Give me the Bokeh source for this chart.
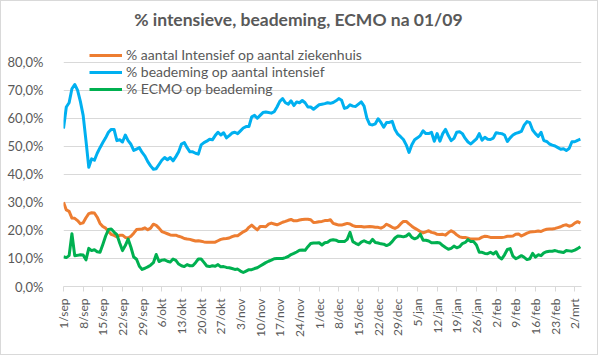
import math
from bokeh.plotting import figure
from bokeh.models import (ColumnDataSource, FixedTicker, CustomJSTickFormatter,
                          Legend, LegendItem, Label, Range1d)
from bokeh.embed import file_html
from bokeh.resources import INLINE

# ---- data (percentages, daily from 1 sep 2020) ----
tick_labels = ["1/sep", "8/sep", "15/sep", "22/sep", "29/sep", "6/okt", "13/okt",
               "20/okt", "27/okt", "3/nov", "10/nov", "17/nov", "24/nov", "1/dec",
               "8/dec", "15/dec", "22/dec", "29/dec", "5/jan", "12/jan", "19/jan",
               "26/jan", "2/feb", "9/feb", "16/feb", "23/feb", "2/mrt"]

pct_ic = [30, 27.3, 26.8, 24.4, 24.3, 23.5, 22.4, 22.7, 24.5, 26, 26.3, 26.2, 24.7, 22.5, 21.4,
          20.8, 19.6, 18.6, 18.2, 17.7, 18.3, 18.3, 17.5, 17.3, 17.9, 19, 20.3, 20.4, 20.5, 20.9,
          20.2, 20.8, 22.2, 21.8, 20.8, 19.6, 19.2, 18.8, 18.4, 18.3, 18.3, 17.9, 17.6, 17.1, 16.9,
          16.8, 16.5, 16.2, 16.3, 16.1, 15.9, 15.8, 15.8, 15.8, 15.8, 16.3, 16.8, 17, 17.1, 17.3,
          17.8, 18.1, 18.1, 18.8, 19.5, 20, 21.1, 21.9, 21, 20.2, 21.4, 21.4, 21.3, 22.2, 22.6,
          22.3, 22, 22.4, 22.9, 23.2, 23.6, 23.9, 23.4, 23.4, 23.7, 23.9, 24, 24, 23.8, 22.8,
          22.9, 23.1, 23.2, 23.5, 23.5, 23.8, 22.5, 22.2, 21.9, 21.9, 22.2, 22.5, 22.3, 21.7, 21.4,
          21.4, 21.4, 21.2, 21.3, 21.4, 21.3, 21.1, 21.1, 20.8, 21.3, 22.2, 21.7, 21.1, 20.7, 21.2,
          22.3, 23.2, 23.2, 22.3, 21.5, 20.8, 20.2, 19.6, 19.1, 19.5, 19.9, 19.3, 19.1, 18.6, 18.5,
          18.6, 18.3, 19.2, 19.9, 19.3, 18.4, 17.7, 17.5, 17.5, 17.2, 16.9, 16.9, 16.9, 17, 17.6,
          17.9, 17.8, 17.5, 17.5, 17.5, 17.5, 17.5, 17.6, 17.9, 17.9, 18, 18.6, 18.7, 18, 18.5,
          19, 19.4, 19.5, 19.6, 19.8, 19.6, 20.1, 20.4, 20.5, 20.5, 20.7, 21, 21.3, 21.8, 22,
          21.5, 21.8, 22.6, 23.1, 22.6]

pct_vent = [56.3, 64, 65.5, 70.5, 72, 70, 66, 61, 52, 42.5, 45.5, 45, 47.5, 49.5, 51.3,
            53, 55, 56, 56, 52, 52.3, 51.5, 54, 52, 50.7, 48.5, 49, 49.5, 47.8, 46.5,
            44.5, 43, 41.8, 42, 43.5, 45, 46, 45.2, 46, 44.8, 46.3, 48, 50.8, 51.3, 49.5,
            48, 48, 47.5, 47.2, 50.5, 51.3, 51.8, 52.5, 52.3, 53.8, 55, 54, 54.8, 53, 53.8,
            54.7, 55, 54.5, 55.5, 56.5, 57, 57, 60.5, 61, 60, 61, 62, 62.2, 62, 61.8,
            62.3, 64, 66, 67, 65.5, 65, 66.2, 64.5, 65.8, 65.5, 66.3, 65.5, 64, 64, 63.2,
            64, 64.8, 65, 65.2, 65.5, 65.3, 65.6, 66.2, 67, 66.4, 63.5, 63.8, 64.8, 64.3, 64.2,
            65, 65.8, 64.3, 60, 57.8, 57.6, 58, 59.8, 58.5, 56.8, 58.5, 58.5, 58.9, 56, 54.3,
            53.4, 52.4, 50.5, 47.8, 50.5, 52.3, 53, 53.8, 55.5, 54.5, 54.5, 55, 51.8, 54.5, 51.8,
            54.5, 56, 53.8, 52, 52.8, 55, 55.2, 54.5, 52.8, 51.5, 50.8, 51.7, 52.6, 54.5, 52.2,
            53.2, 52.5, 52.4, 52.9, 54.8, 54.6, 54.5, 54, 51.7, 53, 54, 54.6, 54.9, 55.3, 57.5,
            58.8, 58.4, 55.8, 54.5, 53.5, 55, 52, 51.7, 50.8, 50.4, 50.1, 49.5, 48.9, 49.1, 48.5,
            49.2, 51.6, 51.6, 52.1, 52.5]

pct_ecmo = [10.6, 10.3, 11, 18.8, 11, 11.1, 11.3, 11.2, 9.5, 13.6, 12.8, 13.1, 12.4, 12.2, 15,
            18, 20.3, 20.5, 19.4, 18.5, 15.5, 12.8, 14.6, 16.9, 14, 10.5, 9.7, 7.2, 6.1, 6.5,
            7, 7.6, 8.5, 11.4, 8.9, 9.4, 9.5, 9, 8.7, 9.8, 9.3, 8, 7.4, 7.1, 7.8,
            7.4, 7.4, 8.5, 9.8, 9.8, 8.6, 7.3, 7.1, 7.4, 7.2, 7.8, 7, 7.1, 6.8, 6.7,
            6.4, 6.1, 6.2, 5.5, 5, 5.5, 6, 6, 6.4, 6.7, 7.3, 7.9, 8.5, 9, 9.4,
            9.9, 10, 10, 10, 10.3, 10.7, 11.4, 11.8, 12.3, 12.9, 13, 12.9, 14.2, 15.3, 15.5,
            15.5, 15.6, 14.8, 15.6, 15.8, 16.5, 16.7, 16.5, 16, 16, 16, 16.8, 19.3, 16, 15.4,
            14.9, 15.8, 16.3, 15.8, 15.5, 16.8, 15.7, 15.5, 15.2, 15.1, 14.6, 15, 16, 17.3, 18,
            17.9, 17.7, 18, 18.8, 17.5, 17, 17.4, 18.7, 16.5, 16.5, 16.2, 15.6, 15.6, 15.7, 15.5,
            14.6, 13.9, 13.3, 13.6, 14.4, 13.8, 14.2, 15.3, 15.7, 16.7, 16, 16, 14.8, 12.2, 12.2,
            11.8, 11.7, 12.2, 11.6, 12.4, 10.5, 9.8, 11.3, 13.2, 13.5, 10.8, 9.9, 10.4, 11, 10.4,
            9.6, 9.9, 11.8, 10.5, 11.3, 11, 12, 12.4, 12.6, 12.6, 12.8, 12.5, 12.3, 12.1, 12.8,
            12.7, 12.6, 13, 13.5, 14.2]

series_names = ["% aantal Intensief op aantal ziekenhuis",
                "% beademing op aantal intensief",
                "% ECMO op beademing"]
series_colors = ["#ED7D31", "#00B0F0", "#00B050"]
title_text = "% intensieve, beademing, ECMO na 01/09"

day = list(range(len(pct_vent)))
tick_days = [7 * i for i in range(len(tick_labels))]

FONT = "Lato"
TXT = "#595959"
GRID = "#D9D9D9"

# frame spans the full height down to the 0% line so the title can sit inside it
p = figure(width=598, height=355, output_backend="svg", toolbar_location=None,
           x_range=Range1d(0, 184.4), y_range=Range1d(0, 101.6),
           min_border_left=62, min_border_right=18, min_border_top=0, min_border_bottom=70)
p.styles = {"border": "1px solid #D9D9D9"}
p.outline_line_color = None
p.background_fill_color = "white"
p.border_fill_color = "white"

p.xgrid.visible = False
p.ygrid.grid_line_color = GRID
p.ygrid.grid_line_width = 1

p.yaxis.ticker = FixedTicker(ticks=[0, 10, 20, 30, 40, 50, 60, 70, 80])
p.yaxis.formatter = CustomJSTickFormatter(code="return tick.toFixed(1).replace('.', ',') + '%';")
p.yaxis.axis_line_color = None
p.yaxis.major_tick_line_color = None
p.yaxis.minor_tick_line_color = None
p.yaxis.major_label_standoff = 14
p.yaxis.major_label_text_font = FONT
p.yaxis.major_label_text_font_size = "13px"
p.yaxis.major_label_text_color = TXT

p.xaxis.ticker = FixedTicker(ticks=tick_days)
p.xaxis.major_label_overrides = {d: lab for d, lab in zip(tick_days, tick_labels)}
p.xaxis.major_label_orientation = math.pi / 2
p.xaxis.axis_line_color = GRID
p.xaxis.major_tick_line_color = GRID
p.xaxis.major_tick_in = 0
p.xaxis.major_tick_out = 5
p.xaxis.minor_tick_line_color = None
p.xaxis.major_label_standoff = 7
p.xaxis.major_label_text_font = FONT
p.xaxis.major_label_text_font_size = "12px"
p.xaxis.major_label_text_color = TXT

src = ColumnDataSource(dict(day=day, ic=pct_ic, vent=pct_vent, ecmo=pct_ecmo))
renderers = []
for col, color in zip(["ic", "vent", "ecmo"], series_colors):
    r = p.line("day", col, source=src, line_color=color, line_width=3, line_join="round")
    renderers.append(r)

legend = Legend(items=[LegendItem(label=n, renderers=[r]) for n, r in zip(series_names, renderers)],
                location=(26, 189), orientation="vertical",
                background_fill_alpha=0, border_line_color=None,
                padding=0, spacing=0, margin=0,
                glyph_width=33, glyph_height=16, label_height=16, label_standoff=4,
                label_text_font=FONT, label_text_font_size="14px", label_text_color=TXT)
p.add_layout(legend)

title = Label(x=83.6, y=95.3, text=title_text,
              text_align="center", text_baseline="middle", text_font=FONT,
              text_font_size="17.5px", text_font_style="bold", text_color=TXT)
p.add_layout(title)

open("out.html", "w").write(file_html(p, INLINE))
